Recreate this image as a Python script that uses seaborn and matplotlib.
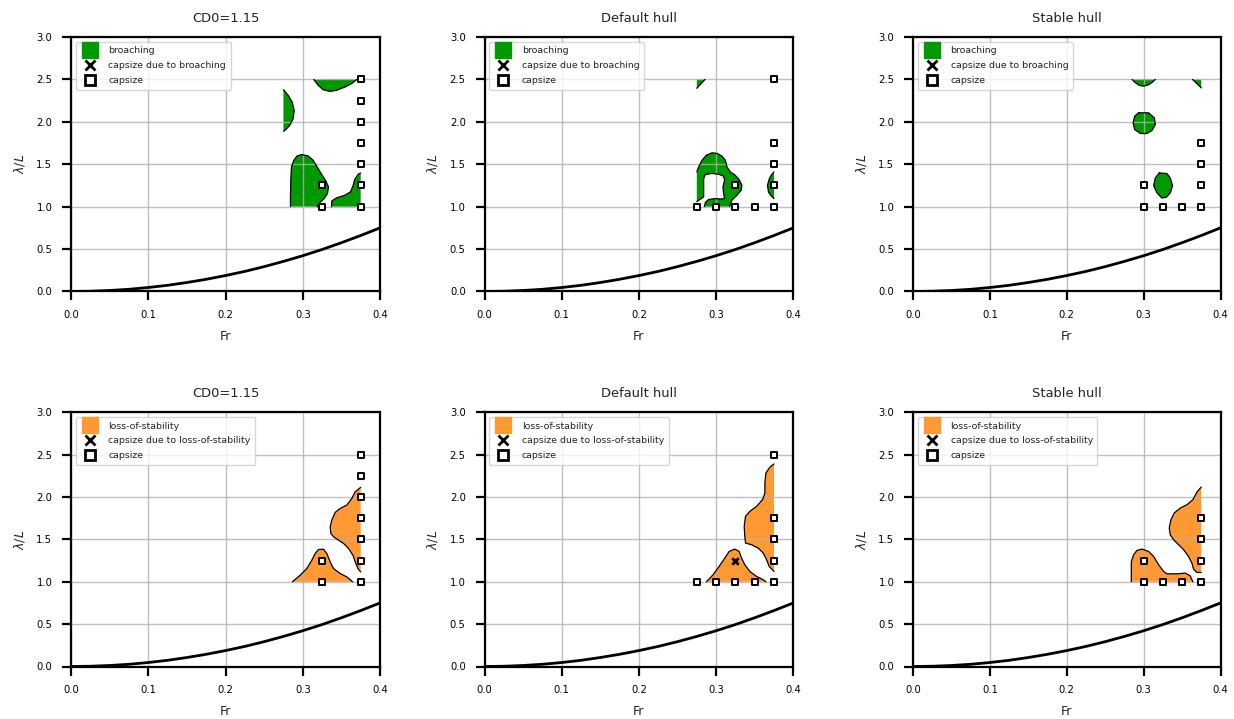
import matplotlib
matplotlib.use("Agg")
import matplotlib.pyplot as plt
from matplotlib.lines import Line2D
import seaborn as sns
import pandas as pd

# ---------------- data ----------------
TITLES = ["CD0=1.15", "Default hull", "Stable hull"]
X_TICKS = [0.0, 0.1, 0.2, 0.3, 0.4]
Y_TICKS = [0.0, 0.5, 1.0, 1.5, 2.0, 2.5, 3.0]

# reference curve
FR_CURVE = [0.0, 0.025, 0.05, 0.075, 0.1, 0.125, 0.15, 0.175, 0.2, 0.225, 0.25,
            0.275, 0.3, 0.325, 0.35, 0.375, 0.4]
LAM_CURVE = [0.0, 0.003, 0.012, 0.026, 0.047, 0.073, 0.106, 0.144, 0.188, 0.237,
             0.293, 0.355, 0.422, 0.495, 0.575, 0.66, 0.75]

# capsize points
CD0_CAP_FR = [0.325, 0.325, 0.375, 0.375, 0.375, 0.375, 0.375, 0.375, 0.375]
CD0_CAP_LAM = [1.0, 1.25, 1.0, 1.25, 1.5, 1.75, 2.0, 2.25, 2.5]
DEF_BR_CAP_FR = [0.275, 0.3, 0.325, 0.35, 0.375, 0.325, 0.375, 0.375, 0.375, 0.375]
DEF_BR_CAP_LAM = [1.0, 1.0, 1.0, 1.0, 1.0, 1.25, 1.25, 1.5, 1.75, 2.5]
DEF_LS_CAP_FR = [0.275, 0.3, 0.325, 0.35, 0.375, 0.375, 0.375, 0.375, 0.375]
DEF_LS_CAP_LAM = [1.0, 1.0, 1.0, 1.0, 1.0, 1.25, 1.5, 1.75, 2.5]
STB_CAP_FR = [0.3, 0.3, 0.325, 0.35, 0.375, 0.375, 0.375, 0.375]
STB_CAP_LAM = [1.25, 1.0, 1.0, 1.0, 1.0, 1.25, 1.5, 1.75]
# capsize due to loss-of-stability (default hull)
DEF_LS_X_FR = [0.325]
DEF_LS_X_LAM = [1.25]

# ---- broaching regions: CD0=1.15 ----
CD0_BR_A_FR = [0.3143, 0.320, 0.3264, 0.335, 0.3437, 0.3545, 0.3631, 0.370]
CD0_BR_A_LAM = [2.5, 2.43, 2.379, 2.359, 2.371, 2.41, 2.45, 2.5]
CD0_BR_B_FR = [0.275, 0.2811, 0.2863, 0.2889, 0.2876, 0.2832, 0.278, 0.275]
CD0_BR_B_LAM = [2.379, 2.313, 2.234, 2.136, 2.038, 1.959, 1.908, 1.889]
CD0_BR_C_FR = [0.2841, 0.2841, 0.2845, 0.2854, 0.2884, 0.2927, 0.2984, 0.307, 0.3135,
               0.3187, 0.3243, 0.3299, 0.3333, 0.332, 0.3277, 0.3221, 0.3187]
CD0_BR_C_LAM = [1.0, 1.115, 1.311, 1.468, 1.547, 1.598, 1.614, 1.598, 1.547,
                1.468, 1.382, 1.303, 1.233, 1.154, 1.095, 1.048, 1.0]
CD0_BR_D_FR = [0.3372, 0.3377, 0.3437, 0.3545, 0.3618, 0.3653, 0.3674, 0.3718, 0.375]
CD0_BR_D_LAM = [1.0, 1.068, 1.103, 1.135, 1.174, 1.252, 1.323, 1.382, 1.398]

# ---- broaching regions: default hull ----
DEF_BR_A_FR = [0.2856, 0.275]
DEF_BR_A_LAM = [2.5, 2.395]
DEF_BR_B_OUT_FR = [0.275, 0.2774, 0.2818, 0.2874, 0.2947, 0.3012, 0.3076, 0.3119, 0.3141,
                   0.3183, 0.3248, 0.3303, 0.3334, 0.3325, 0.327, 0.3205, 0.3174]
DEF_BR_B_OUT_LAM = [1.41, 1.469, 1.548, 1.607, 1.635, 1.628, 1.596, 1.548, 1.469,
                    1.41, 1.371, 1.312, 1.253, 1.194, 1.135, 1.076, 1.0]
DEF_BR_B_IN_FR = [0.2848, 0.2861, 0.2903, 0.299, 0.3076, 0.311, 0.3097, 0.3089, 0.311,
                  0.3097, 0.3032, 0.2947, 0.2861, 0.2839, 0.2839, 0.2839, 0.275]
DEF_BR_B_IN_LAM = [1.0, 1.05, 1.085, 1.095, 1.09, 1.1, 1.15, 1.233, 1.312,
                   1.36, 1.383, 1.391, 1.379, 1.332, 1.194, 1.115, 1.06]
DEF_BR_C_FR = [0.375, 0.372, 0.369, 0.3665, 0.368, 0.372, 0.375]
DEF_BR_C_LAM = [1.41, 1.38, 1.33, 1.25, 1.17, 1.12, 1.096]

# ---- broaching regions: stable hull ----
STB_BR_A_FR = [0.285, 0.2893, 0.2945, 0.3001, 0.3066, 0.3117, 0.3152]
STB_BR_A_LAM = [2.5, 2.461, 2.429, 2.421, 2.437, 2.469, 2.5]
STB_BR_B_FR = [0.3636, 0.369, 0.375]
STB_BR_B_LAM = [2.5, 2.453, 2.40]
STB_BR_C_FR = [0.2936, 0.3066, 0.3139, 0.3152, 0.3109, 0.3044, 0.2958, 0.2884, 0.2863,
               0.2884, 0.2936]
STB_BR_C_LAM = [2.106, 2.106, 2.047, 1.969, 1.898, 1.862, 1.862, 1.909, 1.988,
                2.067, 2.106]
STB_BR_D_FR = [0.3204, 0.3303, 0.3346, 0.3377, 0.3346, 0.3294, 0.3238, 0.3174, 0.313,
               0.3152, 0.3204]
STB_BR_D_LAM = [1.398, 1.39, 1.339, 1.248, 1.161, 1.11, 1.102, 1.161, 1.248,
                1.339, 1.398]

# ---- loss-of-stability regions: CD0=1.15 ----
CD0_LS_A_FR = [0.375, 0.3679, 0.3636, 0.3571, 0.3485, 0.342, 0.3376, 0.3355, 0.3364,
               0.3398, 0.3463, 0.3528, 0.3593, 0.3649, 0.3679, 0.3714, 0.375]
CD0_LS_A_LAM = [2.114, 2.063, 1.984, 1.905, 1.866, 1.819, 1.728, 1.649, 1.57,
                1.531, 1.491, 1.452, 1.393, 1.314, 1.235, 1.156, 1.116]
CD0_LS_B_FR = [0.2866, 0.2966, 0.3052, 0.3117, 0.316, 0.3204, 0.3268, 0.3312, 0.3355,
               0.3398, 0.3485, 0.3571, 0.3645]
CD0_LS_B_LAM = [1.0, 1.077, 1.156, 1.254, 1.333, 1.381, 1.385, 1.333, 1.235,
                1.156, 1.097, 1.057, 1.0]

# ---- loss-of-stability regions: default hull ----
DEF_LS_A_FR = [0.375, 0.3697, 0.3645, 0.3632, 0.3632, 0.3602, 0.3524, 0.3437, 0.3381,
               0.3364, 0.3372, 0.3381, 0.3459, 0.3545, 0.361, 0.3654, 0.3688, 0.375]
DEF_LS_A_LAM = [2.39, 2.354, 2.283, 2.165, 2.047, 1.969, 1.89, 1.831, 1.772,
                1.654, 1.535, 1.457, 1.437, 1.398, 1.339, 1.26, 1.181, 1.122]
DEF_LS_B_FR = [0.2874, 0.2961, 0.3039, 0.3113, 0.3169, 0.3242, 0.3299, 0.3329, 0.3372,
               0.3437, 0.3524, 0.361, 0.3645]
DEF_LS_B_LAM = [1.0, 1.083, 1.181, 1.28, 1.358, 1.386, 1.358, 1.28, 1.201,
                1.122, 1.063, 1.024, 1.0]

# ---- loss-of-stability regions: stable hull ----
STB_LS_A_FR = [0.375, 0.3693, 0.3641, 0.3563, 0.3476, 0.3398, 0.3355, 0.3333, 0.3346,
               0.339, 0.3455, 0.352, 0.3584, 0.3628, 0.3649, 0.3693, 0.375]
STB_LS_A_LAM = [2.118, 2.059, 1.969, 1.909, 1.87, 1.811, 1.732, 1.634, 1.555,
                1.496, 1.437, 1.378, 1.299, 1.22, 1.15, 1.11, 1.11]
STB_LS_B_FR = [0.284, 0.284, 0.287, 0.2913, 0.2978, 0.3065, 0.313, 0.3195, 0.326,
               0.3303, 0.3433, 0.3541, 0.3606, 0.3641]
STB_LS_B_LAM = [1.0, 1.24, 1.319, 1.37, 1.386, 1.358, 1.299, 1.201, 1.122,
                1.094, 1.094, 1.102, 1.071, 1.0]

# grid corner points that close some regions (no outline)
CORNER_LOW_FR, CORNER_LOW_LAM = [0.375], [1.0]
CORNER_TOP_L_FR, CORNER_TOP_L_LAM = [0.275], [2.5]
CORNER_TOP_R_FR, CORNER_TOP_R_LAM = [0.375], [2.5]

GREEN = "#009900"
ORANGE = "#ff9933"

# ---------------- style ----------------
sns.set_theme(style="ticks")
plt.rcParams.update({
    "font.family": ["DejaVu Sans"],
    "axes.edgecolor": "black",
    "axes.linewidth": 1.6,
    "xtick.major.width": 1.6,
    "ytick.major.width": 1.6,
    "xtick.major.size": 6.5,
    "ytick.major.size": 6.5,
    "xtick.major.pad": 7,
    "ytick.major.pad": 7,
    "xtick.labelsize": 7.2,
    "ytick.labelsize": 7.2,
    "xtick.color": "black",
    "ytick.color": "black",
    "text.color": "#222222",
})

fig = plt.figure(figsize=(12.34, 7.19), dpi=100)
W, H = 1234, 719
cols = [(71.0, 380.0), (484.5, 793.3), (913.0, 1220.5)]
rows = [(37.0, 291.5), (412.3, 666.5)]


def make_ax(r, c):
    x0, x1 = cols[c]
    y0, y1 = rows[r]
    return fig.add_axes([x0 / W, 1 - y1 / H, (x1 - x0) / W, (y1 - y0) / H])


def draw_region(ax, segments, color):
    fr_all, lam_all = [], []
    for fr, lam, _ in segments:
        fr_all += list(fr)
        lam_all += list(lam)
    ax.fill(fr_all, lam_all, color=color, lw=0, zorder=1)
    for fr, lam, outline in segments:
        if outline:
            ax.plot(fr, lam, color="black", lw=0.9, zorder=2, solid_joinstyle="round")


broach_regions = [
    [
        [(CD0_BR_A_FR, CD0_BR_A_LAM, True)],
        [(CD0_BR_B_FR, CD0_BR_B_LAM, True)],
        [(CD0_BR_C_FR, CD0_BR_C_LAM, True)],
        [(CD0_BR_D_FR, CD0_BR_D_LAM, True), (CORNER_LOW_FR, CORNER_LOW_LAM, False)],
    ],
    [
        [(DEF_BR_A_FR, DEF_BR_A_LAM, True), (CORNER_TOP_L_FR, CORNER_TOP_L_LAM, False)],
        [(DEF_BR_B_OUT_FR, DEF_BR_B_OUT_LAM, True), (DEF_BR_B_IN_FR, DEF_BR_B_IN_LAM, True)],
        [(DEF_BR_C_FR, DEF_BR_C_LAM, True)],
    ],
    [
        [(STB_BR_A_FR, STB_BR_A_LAM, True)],
        [(STB_BR_B_FR, STB_BR_B_LAM, True), (CORNER_TOP_R_FR, CORNER_TOP_R_LAM, False)],
        [(STB_BR_C_FR, STB_BR_C_LAM, True)],
        [(STB_BR_D_FR, STB_BR_D_LAM, True)],
    ],
]
ls_regions = [
    [[(CD0_LS_A_FR, CD0_LS_A_LAM, True)], [(CD0_LS_B_FR, CD0_LS_B_LAM, True)]],
    [[(DEF_LS_A_FR, DEF_LS_A_LAM, True)], [(DEF_LS_B_FR, DEF_LS_B_LAM, True)]],
    [[(STB_LS_A_FR, STB_LS_A_LAM, True)], [(STB_LS_B_FR, STB_LS_B_LAM, True)]],
]
cap_points = [
    [(CD0_CAP_FR, CD0_CAP_LAM), (DEF_BR_CAP_FR, DEF_BR_CAP_LAM), (STB_CAP_FR, STB_CAP_LAM)],
    [(CD0_CAP_FR, CD0_CAP_LAM), (DEF_LS_CAP_FR, DEF_LS_CAP_LAM), (STB_CAP_FR, STB_CAP_LAM)],
]
x_points = [
    [None, None, None],
    [None, (DEF_LS_X_FR, DEF_LS_X_LAM), None],
]
kinds = [("broaching", GREEN, broach_regions), ("loss-of-stability", ORANGE, ls_regions)]

curve_df = pd.DataFrame({"Fr": FR_CURVE, "lam": LAM_CURVE})

for r, (kind, color, regions) in enumerate(kinds):
    for c in range(3):
        ax = make_ax(r, c)
        ax.set_axisbelow("line")
        ax.grid(True, color="#b0b0b0", lw=1.0, alpha=0.8)
        for seg in regions[c]:
            draw_region(ax, seg, color)
        sns.lineplot(data=curve_df, x="Fr", y="lam", color="black", lw=2.0,
                     ax=ax, zorder=2, sort=False, estimator=None)
        cfr, clam = cap_points[r][c]
        sns.scatterplot(x=cfr, y=clam, marker="s", s=18, facecolor="white",
                        edgecolor="black", linewidth=1.4, ax=ax, zorder=4)
        if x_points[r][c] is not None:
            xfr, xlam = x_points[r][c]
            sns.scatterplot(x=xfr, y=xlam, marker="x", s=22, color="black",
                            linewidth=2.0, ax=ax, zorder=4)
        ax.set_xlim(0, 0.4)
        ax.set_ylim(0, 3.0)
        ax.set_xticks(X_TICKS)
        ax.set_yticks(Y_TICKS)
        ax.set_xlabel("Fr", fontsize=9, labelpad=7)
        ax.set_ylabel(r"$\lambda/L$", fontsize=9, labelpad=7)
        ax.set_title(TITLES[c], fontsize=9.4, pad=11)
        for sp in ax.spines.values():
            sp.set_visible(True)
            sp.set_color("black")
            sp.set_linewidth(1.6)
        handles = [
            Line2D([], [], marker="s", linestyle="none", markerfacecolor=color,
                   markeredgecolor=color, markersize=12, label=kind),
            Line2D([], [], marker="x", linestyle="none", color="black",
                   markersize=7, markeredgewidth=2, label=f"capsize due to {kind}"),
            Line2D([], [], marker="s", linestyle="none", markerfacecolor="white",
                   markeredgecolor="black", markersize=7, markeredgewidth=2,
                   label="capsize"),
        ]
        ax.legend(handles=handles, loc="upper left", fontsize=6.75,
                  frameon=True, framealpha=0.8, edgecolor="#cccccc",
                  labelspacing=0.62, borderpad=0.5, handletextpad=1.0)

fig.savefig("out.png", dpi=100)
